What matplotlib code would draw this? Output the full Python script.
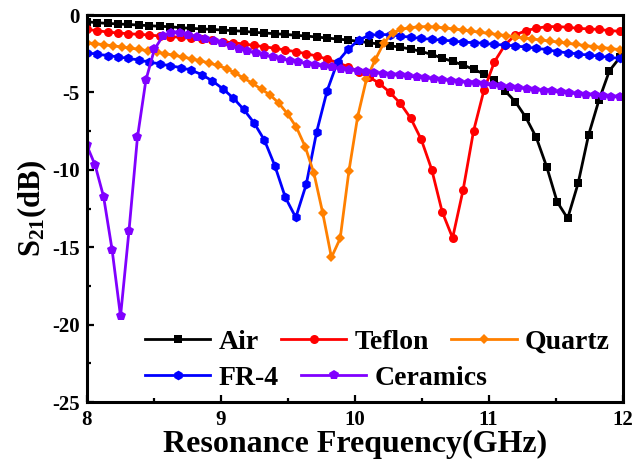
"""
S21 transmission versus frequency for the five substrate materials.
"""

import numpy as np
import matplotlib.pyplot as plt
from matplotlib.ticker import MultipleLocator

FONT = "Liberation Serif"
LEGEND_FONTSIZE = 20

# frequency grids (GHz), one per measurement set
freq_52 = np.linspace(8.0, 11.98, 52)
freq_quartz = np.linspace(8.0, 11.98, 62)
freq_ceramics = np.linspace(8.0, 11.98, 64)

air = [
    -0.43, -0.50, -0.54, -0.58, -0.61, -0.65, -0.69, -0.73, -0.76, -0.82,
    -0.86, -0.90, -0.93, -0.97, -1.01, -1.05, -1.12, -1.16, -1.21, -1.25,
    -1.31, -1.36, -1.42, -1.49, -1.55, -1.62, -1.70, -1.79, -1.88, -1.98,
    -2.08, -2.20, -2.35, -2.55, -2.78, -3.00, -3.23, -3.51, -3.81, -4.20,
    -4.89, -5.60, -6.61, -7.91, -9.81, -12.07, -13.14, -10.88, -7.76, -5.49,
    -3.60, -2.74,
]
teflon = [
    -0.93, -1.01, -1.10, -1.16, -1.21, -1.25, -1.29, -1.36, -1.40, -1.44,
    -1.51, -1.57, -1.64, -1.72, -1.79, -1.87, -1.96, -2.05, -2.15, -2.26,
    -2.37, -2.50, -2.65, -2.85, -3.08, -3.34, -3.65, -4.00, -4.42, -5.00,
    -5.71, -6.68, -8.04, -9.98, -12.71, -14.40, -11.31, -7.50, -4.85, -3.02,
    -1.94, -1.29, -1.01, -0.86, -0.75, -0.75, -0.79, -0.86, -0.90, -0.93,
    -1.01, -1.05,
]
quartz = [
    -1.79, -1.85, -1.92, -1.99, -2.06, -2.14, -2.22, -2.31, -2.40, -2.50,
    -2.60, -2.71, -2.83, -2.96, -3.10, -3.26, -3.46, -3.75, -4.09, -4.42,
    -4.80, -5.17, -5.71, -6.40, -7.26, -8.51, -10.23, -12.78, -15.66, -14.43,
    -10.08, -6.57, -4.16, -2.90, -1.80, -1.15, -0.92, -0.82, -0.76, -0.75,
    -0.78, -0.84, -0.90, -0.97, -1.04, -1.12, -1.19, -1.26, -1.33, -1.40,
    -1.47, -1.55, -1.62, -1.68, -1.76, -1.83, -1.90, -1.97, -2.04, -2.10,
    -2.17, -2.24,
]
fr4 = [
    -2.44, -2.53, -2.62, -2.71, -2.80, -2.91, -3.04, -3.16, -3.28, -3.40,
    -3.56, -3.85, -4.25, -4.75, -5.35, -6.08, -6.96, -8.08, -9.74, -11.78,
    -13.08, -10.94, -7.54, -4.89, -3.02, -2.22, -1.62, -1.32, -1.25, -1.28,
    -1.36, -1.44, -1.51, -1.57, -1.62, -1.68, -1.75, -1.79, -1.83, -1.90,
    -1.94, -2.00, -2.07, -2.15, -2.23, -2.37, -2.44, -2.52, -2.59, -2.65,
    -2.74, -2.80,
]
ceramics = [
    -8.40, -9.70, -11.74, -15.15, -19.46, -13.94, -7.90, -4.20, -2.22, -1.36,
    -1.14, -1.18, -1.29, -1.44, -1.57, -1.68, -1.82, -2.00, -2.17, -2.32,
    -2.47, -2.60, -2.72, -2.83, -2.94, -3.04, -3.14, -3.23, -3.31, -3.39,
    -3.47, -3.54, -3.61, -3.67, -3.73, -3.79, -3.85, -3.90, -3.96, -4.01,
    -4.07, -4.12, -4.18, -4.24, -4.30, -4.36, -4.42, -4.48, -4.54, -4.60,
    -4.66, -4.71, -4.77, -4.83, -4.88, -4.94, -4.99, -5.04, -5.09, -5.14,
    -5.18, -5.23, -5.27, -5.31,
]

plt.rcParams["font.family"] = FONT
plt.rcParams["font.weight"] = "bold"
plt.rcParams["axes.unicode_minus"] = False
plt.rcParams["mathtext.fontset"] = "custom"
plt.rcParams["mathtext.rm"] = FONT + ":bold"
plt.rcParams["mathtext.default"] = "rm"

fig = plt.figure(figsize=(6.34, 4.66), dpi=100)
ax = fig.add_axes([0.1367, 0.1373, 0.8453, 0.8305])

series = [
    ("Air", freq_52, air, "black", "s", 5.5),
    ("Teflon", freq_52, teflon, "#ff0000", "o", 6.5),
    ("FR-4", freq_52, fr4, "#0000ff", "h", 7),
    ("Quartz", freq_quartz, quartz, "#ff8000", "D", 5.5),
    ("Ceramics", freq_ceramics, ceramics, "#8000ff", "p", 7.5),
]
lines = {}
for name, x, y, color, marker, size in series:
    (lines[name],) = ax.plot(
        x, y, color=color, marker=marker, markersize=size,
        linewidth=2, markeredgewidth=0, label=name,
    )

ax.set_xlim(8, 12)
ax.set_ylim(-25, 0)
ax.xaxis.set_major_locator(MultipleLocator(1))
ax.xaxis.set_minor_locator(MultipleLocator(0.5))
ax.yaxis.set_major_locator(MultipleLocator(5))
ax.yaxis.set_minor_locator(MultipleLocator(2.5))
ax.tick_params(which="both", direction="in", top=False, right=False,
               width=1.6, labelsize=15)
ax.tick_params(which="major", length=5)
ax.tick_params(which="minor", length=3)
ax.tick_params(axis="x", pad=6)
ax.tick_params(axis="y", pad=5)
for spine in ax.spines.values():
    spine.set_linewidth(2.2)

ax.set_xlabel("Resonance Frequency(GHz)", fontsize=23, fontweight="bold",
              labelpad=0)
ax.set_ylabel("S$_{21}$(dB)", fontsize=22, fontweight="bold", labelpad=2)

# two legend rows laid out independently
legend_style = dict(
    frameon=False, fontsize=LEGEND_FONTSIZE, handlelength=2.35,
    handletextpad=0.3, columnspacing=0.8, borderpad=0, borderaxespad=0,
    loc="center left", bbox_transform=fig.transFigure,
)
row1 = ["Air", "Teflon", "Quartz"]
row2 = ["FR-4", "Ceramics"]
leg1 = ax.legend([lines[n] for n in row1], row1, ncol=3,
                 bbox_to_anchor=(145 / 634, 1 - 342 / 466), **legend_style)
ax.add_artist(leg1)
ax.legend([lines[n] for n in row2], row2, ncol=2,
          bbox_to_anchor=(145 / 634, 1 - 378 / 466), **legend_style)

fig.savefig("out.png", dpi=100)
plt.close(fig)
